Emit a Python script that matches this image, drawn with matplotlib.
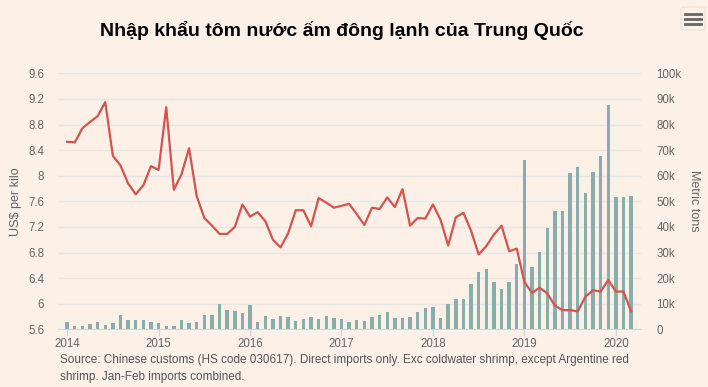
import numpy as np
import matplotlib
matplotlib.use("Agg")
import matplotlib.pyplot as plt
from matplotlib.patches import FancyBboxPatch
from matplotlib.lines import Line2D

# monthly data Jan 2014 - Mar 2020
price = [
    8.53, 8.52, 8.74, 8.84, 8.93, 9.15, 8.31, 8.16, 7.88, 7.71, 7.85, 8.15,  # 2014
    8.09, 9.07, 7.78, 8.02, 8.43, 7.68, 7.34, 7.22, 7.09, 7.09, 7.20, 7.55,  # 2015
    7.36, 7.43, 7.29, 7.00, 6.88, 7.10, 7.46, 7.46, 7.21, 7.65, 7.58, 7.50,  # 2016
    7.53, 7.56, 7.40, 7.23, 7.50, 7.48, 7.66, 7.51, 7.79, 7.22, 7.34, 7.33,  # 2017
    7.55, 7.31, 6.91, 7.35, 7.42, 7.14, 6.77, 6.90, 7.08, 7.22, 6.82, 6.86,  # 2018
    6.34, 6.17, 6.25, 6.16, 5.97, 5.90, 5.90, 5.88, 6.11, 6.21, 6.19, 6.37,  # 2019
    6.19, 6.19, 5.88,                                                          # 2020
]
volume_k = [
    2.9, 1.4, 1.4, 2.2, 2.9, 1.8, 2.6, 5.4, 3.8, 3.8, 3.8, 2.9,
    2.6, 1.4, 1.4, 3.7, 2.6, 3.0, 5.6, 5.6, 9.9, 7.6, 7.2, 6.4,
    9.6, 2.9, 5.3, 4.2, 5.2, 4.8, 3.3, 4.1, 4.8, 4.1, 5.2, 4.4,
    4.1, 2.9, 3.7, 3.3, 4.8, 5.6, 6.8, 4.4, 4.4, 4.8, 6.8, 8.4,
    8.8, 4.4, 9.9, 11.9, 11.9, 17.8, 22.5, 23.7, 18.6, 15.9, 18.6, 25.6,
    66.0, 24.2, 30.1, 39.5, 46.4, 46.4, 61.0, 63.4, 53.1, 61.4, 67.7, 87.7,
    51.5, 51.5, 52.0,
]
years = ["2014", "2015", "2016", "2017", "2018", "2019", "2020"]
left_ticks = [5.6, 6, 6.4, 6.8, 7.2, 7.6, 8, 8.4, 8.8, 9.2, 9.6]
right_ticks = [0, 10, 20, 30, 40, 50, 60, 70, 80, 90, 100]

bg = "#fdf1e7"
plt.rcParams["font.family"] = ["Liberation Sans", "DejaVu Sans"]

fig = plt.figure(figsize=(7.08, 3.87), dpi=100, facecolor=bg)
ax = fig.add_axes([58 / 708, 1 - 329.3 / 387, 583 / 708, 256 / 387])
ax2 = ax.twinx()
ax.set_zorder(2)
ax2.set_zorder(1)
ax.patch.set_visible(False)
ax2.patch.set_visible(False)

months = np.arange(len(price))
ax2.bar(months, volume_k, width=0.45, color="#88adad", zorder=2)
ax.plot(months, price, color="#d5524f", lw=1.6, zorder=3, solid_joinstyle="round")

ax.set_xlim(-1.2, 75.3)
ax.set_ylim(5.6, 9.6)
ax2.set_ylim(0, 100)

ax2.set_yticks(right_ticks)
ax2.set_yticklabels(["0"] + ["%dk" % v for v in right_ticks[1:]])
ax2.yaxis.grid(True, color="#e6e6e6", lw=1)
ax2.set_axisbelow(True)

ax.set_yticks(left_ticks)
ax.set_yticklabels(["%g" % v for v in left_ticks])
ax.set_xticks(np.arange(0, 73, 12))
ax.set_xticklabels(years)

for a in (ax, ax2):
    for s in a.spines.values():
        s.set_visible(False)
ax.spines["bottom"].set_visible(True)
ax.spines["bottom"].set_color("#ccd6eb")

ax.tick_params(axis="x", length=5, color="#ccd6eb", width=1, pad=1.5,
               labelsize=8.3, labelcolor="#666666")
ax.tick_params(axis="y", length=0, pad=10, labelsize=8.3, labelcolor="#666666")
ax2.tick_params(axis="y", length=0, pad=11, labelsize=8.3, labelcolor="#666666")

ax.set_ylabel("US$ per kilo", color="#666666", fontsize=9, va="center")
ax.yaxis.set_label_coords((16 - 58) / 583, 0.5)
ax2.set_ylabel("Metric tons", color="#666666", fontsize=9, rotation=270, va="center")
ax2.yaxis.set_label_coords((694 - 58) / 583, 0.5)

fig.text(342 / 708, 1 - 30 / 387, "Nhập khẩu tôm nước ấm đông lạnh của Trung Quốc",
         ha="center", va="center", fontsize=14, fontweight="bold", color="#000000")

fig.text(60 / 708, 1 - 354.5 / 387,
         "Source: Chinese customs (HS code 030617). Direct imports only. Exc coldwater shrimp, except Argentine red\n"
         "shrimp. Jan-Feb imports combined.",
         ha="left", va="top", fontsize=8.5, color="#555555", linespacing=1.45)

# menu icon
fig.patches.append(FancyBboxPatch((681 / 708, 1 - 30 / 387), 24 / 708, 23 / 387,
                                  boxstyle="round,pad=0,rounding_size=0.005",
                                  transform=fig.transFigure, facecolor="none",
                                  edgecolor="#eadfd6", lw=0.8))
for yy in (13.5, 18.5, 23.5):
    fig.lines.append(Line2D([685 / 708, 701 / 708], [1 - yy / 387, 1 - yy / 387],
                            transform=fig.transFigure, color="#666666", lw=2))

fig.savefig("out.png", dpi=100, facecolor=bg)
